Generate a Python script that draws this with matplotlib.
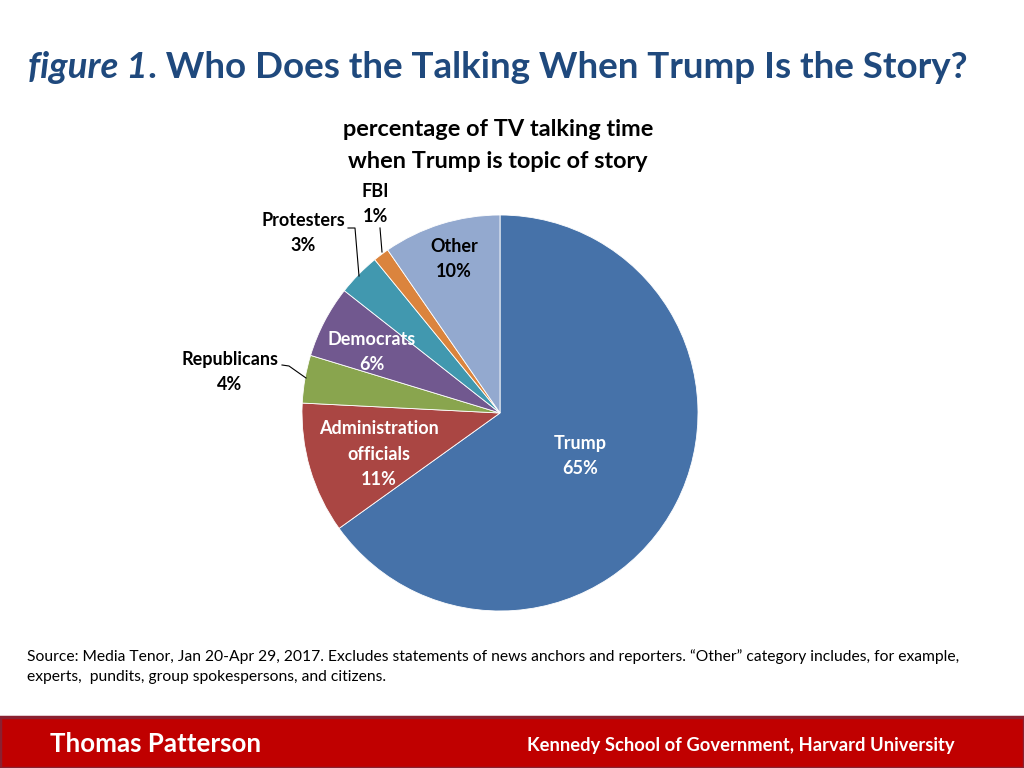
import matplotlib
matplotlib.use("Agg")
import matplotlib.pyplot as plt
from matplotlib.patches import Rectangle

FONT = "Lato"
plt.rcParams['font.family'] = [FONT, 'DejaVu Sans']

# ---- data ----
categories = ["Trump", "Administration\nofficials", "Republicans", "Democrats",
              "Protesters", "FBI", "Other"]
values = [65.1, 10.7, 3.9, 5.9, 3.5, 1.3, 9.6]
pct_labels = ["65%", "11%", "4%", "6%", "3%", "1%", "10%"]
colors = ["#4672A9", "#AA4643", "#89A54E", "#71588F", "#4198AF", "#DB843D", "#93A9CF"]

W, H = 1024, 768
fig = plt.figure(figsize=(W / 100, H / 100), dpi=100)
fig.patch.set_facecolor("white")

# pie axes centred at pixel (500, 413), radius 198 px
cx, cy, R = 500, 413, 198
half = 320
ax = fig.add_axes([(cx - half) / W, (H - cy - half) / H, 2 * half / W, 2 * half / H])
ax.pie(values, colors=colors, startangle=90, counterclock=False, radius=1,
       wedgeprops=dict(linewidth=0.6, edgecolor="white"))
ax.set_xlim(-half / R, half / R)
ax.set_ylim(-half / R, half / R)
ax.set_aspect("equal")
ax.axis("off")

def px(x, y):
    return ((x - cx) / R, (cy - y) / R)

fs_lab = 13
label_pos = {
    0: ((580, 456), "white"),
    1: ((379, 454), "white"),
    2: ((230, 372), "black"),
    3: ((372, 352), "white"),
    4: ((303, 233), "black"),
    5: ((375, 204), "black"),
    6: ((454, 259), "black"),
}
for i, ((x, y), c) in label_pos.items():
    ax.text(*px(x, y), categories[i] + "\n" + pct_labels[i], ha="center", va="center",
            color=c, fontsize=fs_lab, fontweight="bold", linespacing=1.6)

# leader lines
def leader(points):
    xs, ys = zip(*[px(x, y) for x, y in points])
    ax.plot(xs, ys, color="black", lw=0.8)

leader([(348, 228), (355, 228), (359, 276)])
leader([(380, 228), (382, 252)])
leader([(282, 365), (289, 366), (306, 378)])

# titles
renderer = fig.canvas.get_renderer()

def fit(t, target_w):
    w = t.get_window_extent(renderer).width
    t.set_fontsize(t.get_fontsize() * target_w / w)

title_col = "#1F497D"
t1 = fig.text(28 / W, 1 - 67 / H, "figure 1", fontsize=28, style="italic",
              fontweight="bold", color=title_col, va="center", ha="left")
t2 = fig.text(0, 1 - 67 / H, ". Who Does the Talking When Trump Is the Story?",
              fontsize=28, fontweight="bold", color=title_col, va="center", ha="left")
w1 = t1.get_window_extent(renderer).width
w2 = t2.get_window_extent(renderer).width
scale = (970 - 28) / (w1 + w2)
t1.set_fontsize(28 * scale)
t2.set_fontsize(28 * scale)
w1 = t1.get_window_extent(renderer).width
t2.set_x((28 + w1) / W)

s1 = fig.text(498 / W, 1 - 130 / H, "percentage of TV talking time", fontsize=16,
              fontweight="bold", ha="center", va="center")
fit(s1, 311)
s2 = fig.text(498 / W, 1 - 161 / H, "when Trump is topic of story", fontsize=s1.get_fontsize(),
              fontweight="bold", ha="center", va="center")

src1 = fig.text(27 / W, 1 - 657 / H,
                "Source: Media Tenor, Jan 20-Apr 29, 2017. Excludes statements of news anchors and reporters. \u201cOther\u201d category includes, for example,",
                fontsize=11, ha="left", va="center")
fit(src1, 933)
fig.text(27 / W, 1 - 677 / H, "experts,  pundits, group spokespersons, and citizens.",
         fontsize=src1.get_fontsize(), ha="left", va="center")

# bottom bar
fig.patches.append(Rectangle((0, 0), 1, (H - 717) / H, transform=fig.transFigure,
                             facecolor="#C00000", edgecolor="#8B2030", linewidth=2.5,
                             zorder=0))
b1 = fig.text(50 / W, 1 - 744 / H, "Thomas Patterson", color="white", fontsize=14,
              fontweight="bold", ha="left", va="center")
fit(b1, 212)
b2 = fig.text(527 / W, 1 - 746 / H, "Kennedy School of Government, Harvard University",
              color="white", fontsize=11, fontweight="bold", ha="left", va="center")
fit(b2, 424)

fig.savefig("out.png", dpi=100)
